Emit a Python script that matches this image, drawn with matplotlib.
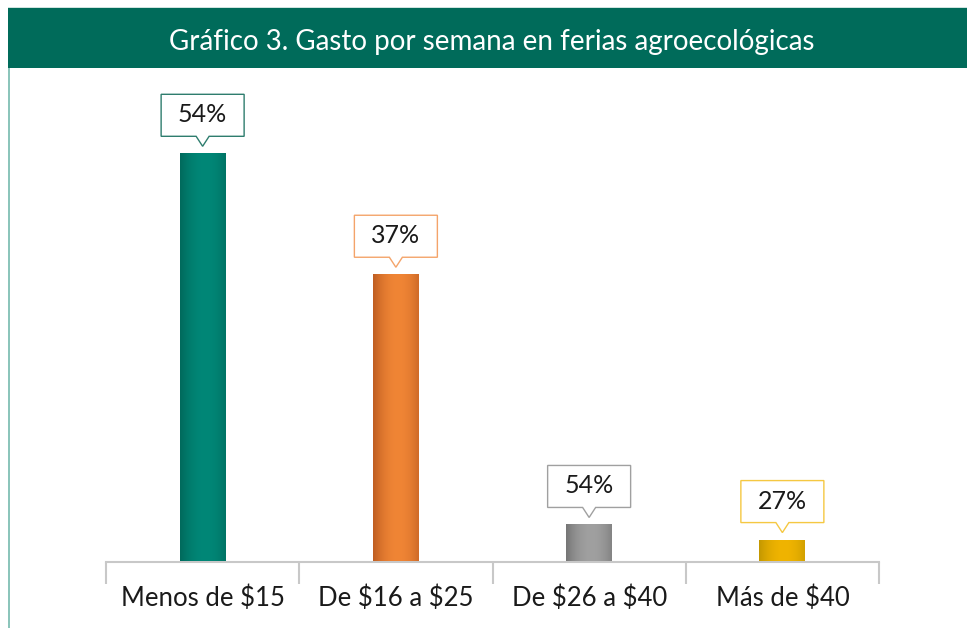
import matplotlib
matplotlib.use("Agg")
import matplotlib.pyplot as plt
import numpy as np
from matplotlib.path import Path
from matplotlib.patches import PathPatch, Rectangle
from matplotlib.transforms import Affine2D, ScaledTranslation
from matplotlib.colors import LinearSegmentedColormap

plt.rcParams['font.family'] = ['Lato', 'DejaVu Sans']

title = "Gráfico 3. Gasto por semana en ferias agroecológicas"
categories = ["Menos de $15", "De $16 a $25", "De $26 a $40", "Más de $40"]
values = [54, 38, 4.9, 2.9]
labels = ["54%", "37%", "54%", "27%"]
edge_colors = ["#006a5c", "#bf5e22", "#767676", "#c49800"]
center_colors = ["#008777", "#f08535", "#a0a0a0", "#f0b400"]
box_colors = ["#2e7d6e", "#f4a46a", "#a0a0a0", "#f5c842"]

W, H = 967, 628
fig = plt.figure(figsize=(W / 100, H / 100), dpi=100)
fig.patch.set_facecolor("white")

# banner
fig.add_artist(Rectangle((8 / W, 1 - 68 / H), 1 - 8 / W, 60 / H, transform=fig.transFigure,
                         facecolor="#006b5a", edgecolor="none"))
fig.add_artist(Rectangle((8 / W, 1 - 8 / H), 1 - 8 / W, 1.2 / H, transform=fig.transFigure,
                         facecolor="#cfe3df", edgecolor="none"))
fig.text(492 / W, 1 - 42 / H, title, color="white", fontsize=20, ha="center", va="center")
# left border line
fig.add_artist(Rectangle((8 / W, 0), 1.5 / W, 1 - 68 / H, transform=fig.transFigure,
                         facecolor="#8cc5bb", edgecolor="none"))

ax_bottom = 561.5
ax_top = 70
ax = fig.add_axes([106 / W, 1 - ax_bottom / H, 773 / W, (ax_bottom - ax_top) / H])
ymax = 54 * (ax_bottom - ax_top) / (ax_bottom - 153.3)
ax.set_facecolor("none")

x = np.arange(len(categories))
bars = ax.bar(x, values, width=0.238, color=center_colors, zorder=2)

# soft horizontal gradient overlay per bar (darker left edge, lighter center)
t = np.linspace(0, 1, 64)
grad = np.clip(np.abs(t - 0.55) / 0.55, 0, 1) ** 2
for b, ec, cc in zip(bars, edge_colors, center_colors):
    cmap = LinearSegmentedColormap.from_list("g", [cc, ec])
    x0, y0 = b.get_x(), b.get_y()
    im = ax.imshow(grad[np.newaxis, :], cmap=cmap, vmin=0, vmax=1, aspect="auto",
                   extent=[x0, x0 + b.get_width(), y0, y0 + b.get_height()], zorder=3,
                   interpolation="bicubic")
    im.set_clip_path(b)
ax.set_xlim(-0.5, len(categories) - 0.5)
ax.set_ylim(0, ymax)

# callouts (pixel geometry relative to bar top)
verts = [(-41.5, 17), (-6.5, 17), (0, 7), (6.5, 17), (41.5, 17), (41.5, 59), (-41.5, 59), (-41.5, 17)]
codes = [Path.MOVETO] + [Path.LINETO] * 6 + [Path.CLOSEPOLY]
callout = Path(verts, codes)
for xi, v, lab, bc in zip(x, values, labels, box_colors):
    tr = Affine2D() + ScaledTranslation(xi, v, ax.transData)
    ax.add_patch(PathPatch(callout, transform=tr, facecolor="white", edgecolor=bc,
                           linewidth=1.0, zorder=4, clip_on=False))
    ax.text(0, 38.5, lab, transform=tr, ha="center", va="center", fontsize=18,
            color="#1a1a1a", zorder=5)

for s in ["top", "right", "left"]:
    ax.spines[s].set_visible(False)
ax.spines["bottom"].set_color("#c8c8c8")
ax.spines["bottom"].set_linewidth(1.5)
ax.set_yticks([])
ax.set_xticks(x)
ax.set_xticklabels([c.replace("$", r"\$") for c in categories], fontsize=18.5, color="#1a1a1a")
ax.tick_params(axis="x", which="major", length=0, pad=17)
ax.set_xticks(np.arange(-0.5, len(categories)), minor=True)
ax.tick_params(axis="x", which="minor", length=16, width=1.5, color="#c8c8c8", direction="out")

fig.savefig("out.png", dpi=100)
